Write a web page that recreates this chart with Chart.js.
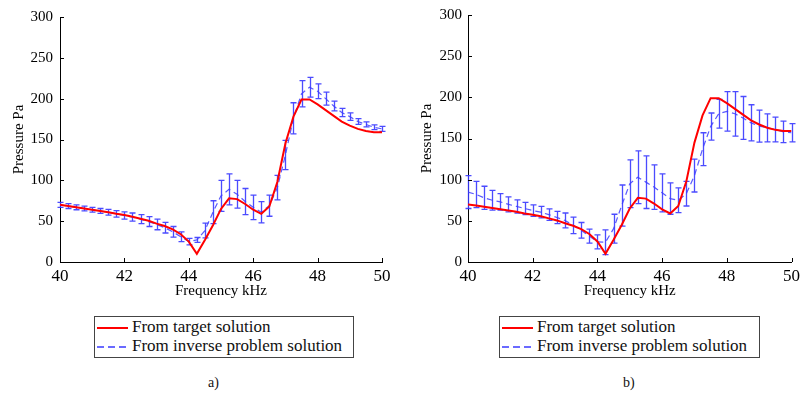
<!DOCTYPE html>
<html>
<head>
  <title>Pressure vs frequency</title>
  <script src="https://cdn.jsdelivr.net/npm/chart.js"></script>
  <style>
    body { margin: 0; background: #fff; width: 804px; height: 399px; position: relative; overflow: hidden;
           font-family: "Liberation Serif", Tinos, "DejaVu Serif", serif; color: #111; }
    .wrap { position: absolute; top: 0; }
    .legend { position: absolute; top: 316px; height: 42px; border: 1px solid #444; box-sizing: border-box; font-size: 17px; }
    .row { position: absolute; left: 2px; height: 19px; line-height: 19px; white-space: nowrap; }
    .sample { display: inline-block; width: 31px; height: 2px; vertical-align: middle; margin-right: 4px; }
    .red { background: #ff0000; }
    .blue { height: 1.5px; background: repeating-linear-gradient(to right, #6a6aff 0 7px, transparent 7px 11px); }
    .caption { position: absolute; top: 375px; font-size: 14px; }
  </style>
</head>
<body>
  <div class="wrap" style="left:0"><canvas id="chartA" width="400" height="300"></canvas></div>
  <div class="wrap" style="left:400px"><canvas id="chartB" width="404" height="300"></canvas></div>

  <div class="legend" style="left:94px; width:260px">
    <div class="row" style="top:0"><span class="sample red"></span>From target solution</div>
    <div class="row" style="top:19px"><span class="sample blue"></span>From inverse problem solution</div>
  </div>
  <div class="legend" style="left:499px; width:261px">
    <div class="row" style="top:0"><span class="sample red"></span>From target solution</div>
    <div class="row" style="top:19px"><span class="sample blue"></span>From inverse problem solution</div>
  </div>
  <div class="caption" style="left:208px">a)</div>
  <div class="caption" style="left:623px">b)</div>

  <script>
    // frequency samples, kHz
    const freq = [40, 40.25, 40.5, 40.75, 41, 41.25, 41.5, 41.75, 42, 42.25, 42.5, 42.75, 43, 43.25, 43.5, 43.75,
      44, 44.25, 44.5, 44.75, 45, 45.25, 45.5, 45.75, 46, 46.25, 46.5, 46.75, 47, 47.25, 47.5, 47.75,
      48, 48.25, 48.5, 48.75, 49, 49.25, 49.5, 49.75, 50];

    // target solution (same in both panels), Pa
    const target = [70, 68.5, 67, 65.5, 64, 62.5, 61, 59, 57.5, 55.5, 53, 50.5, 47, 44, 40, 34,
      25, 10, 27, 45, 65, 78, 77, 71, 64, 59, 68, 98, 145, 178, 199, 199,
      193, 186, 179, 172, 167, 163, 160.5, 159, 159];

    // inverse problem solution, panel a) mean and half error
    const inverseA = [70, 68.5, 67, 65.5, 64, 62.5, 61, 59, 57, 55, 52.5, 49.5, 46, 42, 37, 31,
      25, 27, 38.5, 61, 81, 89, 83, 74, 67, 61, 69, 91, 131, 176, 206, 214,
      209, 200, 191, 183, 178, 172, 168.5, 165, 163];
    const errA = [3, 3, 3, 3, 3, 3, 3.5, 4, 4.5, 5, 5.5, 6, 6.5, 6.5, 6.5, 6,
      4, 3, 9, 14, 19, 19, 17, 16, 15, 13, 13, 15, 18, 19, 16, 12,
      9, 8, 6, 5, 4.5, 3.5, 3, 3, 3];

    // inverse problem solution, panel b)
    const inverseB = [85, 82, 78, 75, 73, 70, 67.5, 65, 62.5, 60.5, 57.5, 54, 50.5, 44.5, 38.5, 31.5,
      24.5, 24, 40.5, 68.5, 95, 103, 97, 91, 84, 77, 75, 83, 105, 137, 164.5, 180,
      183, 180, 175, 169, 165, 163, 161, 158, 157];
    const errB = [20, 16, 14, 12, 10, 9, 8, 7.5, 7, 7, 7, 7.5, 9, 10, 9.5, 8.5,
      8.5, 15, 17.5, 25, 29, 32, 32, 27, 23, 19, 15, 15, 20, 20, 16.5, 17.5,
      24, 27, 26, 22, 19.5, 17, 15, 13, 11];

    const xTicks = [40, 42, 44, 46, 48, 50];
    const yTicks = [0, 50, 100, 150, 200, 250, 300];

    const serif = '"Liberation Serif", Tinos, "DejaVu Serif", serif';

    // vertical error bars with caps, drawn under the lines
    const errorBars = {
      id: 'errorBars',
      beforeDatasetsDraw(chart) {
        const { ctx, scales: { x, y } } = chart;
        chart.data.datasets.forEach(ds => {
          if (!ds.errors) return;
          ctx.save();
          ctx.strokeStyle = ds.errorColor;
          ctx.lineWidth = 1.3;
          ds.data.forEach((p, i) => {
            const px = Math.round(x.getPixelForValue(p.x)) + 0.5;
            const top = y.getPixelForValue(p.y + ds.errors[i]);
            const bot = y.getPixelForValue(p.y - ds.errors[i]);
            ctx.beginPath();
            ctx.moveTo(px, top); ctx.lineTo(px, bot);
            ctx.moveTo(px - 3, top); ctx.lineTo(px + 3, top);
            ctx.moveTo(px - 3, bot); ctx.lineTo(px + 3, bot);
            ctx.stroke();
          });
          ctx.restore();
        });
      }
    };

    // small inward tick marks like the original figure
    const innerTicks = {
      id: 'innerTicks',
      afterDraw(chart) {
        const { ctx, chartArea, scales: { x, y } } = chart;
        ctx.save();
        ctx.strokeStyle = '#000';
        ctx.lineWidth = 1;
        ctx.beginPath();
        x.ticks.forEach(t => {
          const px = Math.round(x.getPixelForValue(t.value)) + 0.5;
          ctx.moveTo(px, chartArea.bottom); ctx.lineTo(px, chartArea.bottom - 4);
        });
        y.ticks.forEach(t => {
          const py = Math.round(y.getPixelForValue(t.value)) + 0.5;
          ctx.moveTo(chartArea.left, py); ctx.lineTo(chartArea.left + 4, py);
        });
        ctx.stroke();
        ctx.restore();
      }
    };

    function makeChart(id, inverse, errors, g) {
      return new Chart(document.getElementById(id), {
        type: 'line',
        data: {
          datasets: [
            {
              label: 'From target solution',
              data: freq.map((f, i) => ({ x: f, y: target[i] })),
              borderColor: '#ff0000',
              borderWidth: 2,
              pointRadius: 0,
              tension: 0
            },
            {
              label: 'From inverse problem solution',
              data: freq.map((f, i) => ({ x: f, y: inverse[i] })),
              errors: errors,
              errorColor: 'rgba(55, 55, 255, 0.9)',
              borderColor: 'rgba(60, 60, 255, 0.85)',
              borderWidth: 1.2,
              borderDash: [6, 4],
              pointRadius: 0,
              tension: 0
            }
          ]
        },
        options: {
          responsive: false,
          animation: false,
          devicePixelRatio: 1,
          layout: { padding: { left: 0, right: g.right, top: g.top, bottom: 0 } },
          plugins: { legend: { display: false }, tooltip: { enabled: false } },
          scales: {
            x: {
              type: 'linear', min: 40, max: 50,
              afterBuildTicks: s => { s.ticks = xTicks.map(v => ({ value: v })); },
              afterFit: s => { s.height = 38; },
              grid: { display: false, drawTicks: false },
              border: { color: '#000', width: 1 },
              ticks: { color: '#000', font: { family: serif, size: 17 }, padding: 4 },
              title: { display: true, text: 'Frequency kHz', color: '#000', font: { family: serif, size: 15 }, padding: 0 }
            },
            y: {
              min: 0, max: 300,
              afterBuildTicks: s => { s.ticks = yTicks.map(v => ({ value: v })); },
              afterFit: s => { s.width = g.axisW; },
              grid: { display: false, drawTicks: false },
              border: { color: '#000', width: 1 },
              ticks: { color: '#000', font: { family: serif, size: 15 }, padding: g.tickPad },
              title: { display: true, text: 'Pressure Pa', color: '#000', font: { family: serif, size: 15 }, padding: { top: g.titlePad, bottom: 0 } }
            }
          }
        },
        plugins: [errorBars, innerTicks]
      });
    }

    makeChart('chartA', inverseA, errA, { top: 17, right: 18, axisW: 60, tickPad: 7, titlePad: 10 });
    makeChart('chartB', inverseB, errB, { top: 15, right: 10, axisW: 68, tickPad: 6, titlePad: 18 });
  </script>
</body>
</html>
